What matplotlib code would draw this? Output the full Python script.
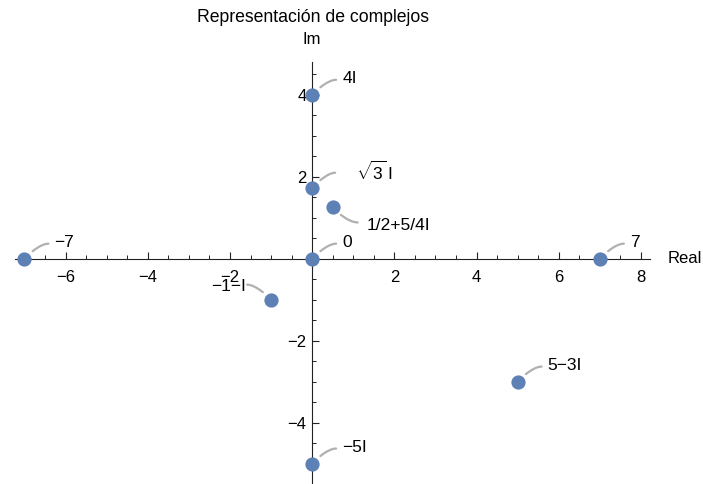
import matplotlib
matplotlib.use("Agg")
import matplotlib.pyplot as plt
from matplotlib.ticker import MultipleLocator

plt.rcParams["font.family"] = ["Liberation Sans", "DejaVu Sans"]
plt.rcParams["mathtext.fontset"] = "custom"
plt.rcParams["mathtext.rm"] = "Liberation Sans"

# complex numbers: real part, imaginary part, label
re_part = [-7, 7, 0, 0, 0, 0.5, -1, 5, 0]
im_part = [0, 0, 0, 4, 3 ** 0.5, 1.25, -1, -3, -5]
labels = ["−7", "7", "0", "4I", r"$\sqrt{3}\,\mathrm{I}$", "1/2+5/4I", "−1−I", "5−3I", "−5I"]

x_ticks = [-6, -4, -2, 2, 4, 6, 8]
y_ticks = [-4, -2, 2, 4]

POINT = "#5E81B5"
LEADER = "#B0B0B0"

# (line end dx, dy, text dx, dy, halign) in pixels, y up
default = (24, 15, 30, 16, "left")
callouts = {
    r"$\sqrt{3}\,\mathrm{I}$": (23, 15, 44, 16, "left"),
    "1/2+5/4I": (25, -15, 34, -18, "left"),
    "−1−I": (-24, 15, -25, 13, "right"),
}

fig = plt.figure(figsize=(7.03, 4.84), dpi=100)
ax = fig.add_axes([15 / 703, 0, 635 / 703, 422 / 484])
ax.set_xlim(-7.23, 8.22)
ax.set_ylim(-5.5, 4.8)

for side in ("top", "right"):
    ax.spines[side].set_visible(False)
for side in ("left", "bottom"):
    ax.spines[side].set_position("zero")
    ax.spines[side].set_color("#222222")
    ax.spines[side].set_linewidth(0.8)

ax.set_xticks(x_ticks)
ax.set_yticks(y_ticks)
ax.xaxis.set_minor_locator(MultipleLocator(0.5))
ax.yaxis.set_minor_locator(MultipleLocator(0.5))
ax.tick_params(which="both", direction="in", colors="#222222", labelsize=12,
               labelcolor="black")
ax.tick_params(which="major", length=5, width=0.8)
ax.tick_params(which="minor", length=3, width=0.7)
ax.tick_params(axis="x", pad=8)
ax.tick_params(axis="y", pad=4)

ax.scatter(re_part, im_part, s=105, color=POINT, zorder=5, clip_on=False,
           linewidths=0)

for x, y, lab in zip(re_part, im_part, labels):
    lx, ly, tx, ty, ha = callouts.get(lab, default)
    angle_b = 45 if (lx > 0) == (ly > 0) else -45
    ax.annotate("", xy=(x, y), xytext=(lx, ly), textcoords="offset pixels",
                arrowprops=dict(arrowstyle="-", color=LEADER, lw=1.6,
                                shrinkA=0, shrinkB=8,
                                connectionstyle=f"angle3,angleA=0,angleB={angle_b}"))
    ax.annotate(lab, xy=(x, y), xytext=(tx, ty), textcoords="offset pixels",
                ha=ha, va="center", fontsize=12.5)

ax.text(8.66, 0, "Real", ha="left", va="center", fontsize=12, clip_on=False)
ax.text(0, 5.34, "Im", ha="center", va="center", fontsize=12, clip_on=False)
fig.text(313 / 703, 1 - 18 / 484, "Representación de complejos",
         ha="center", va="center", fontsize=12.7)

fig.savefig("out.png", dpi=100)
